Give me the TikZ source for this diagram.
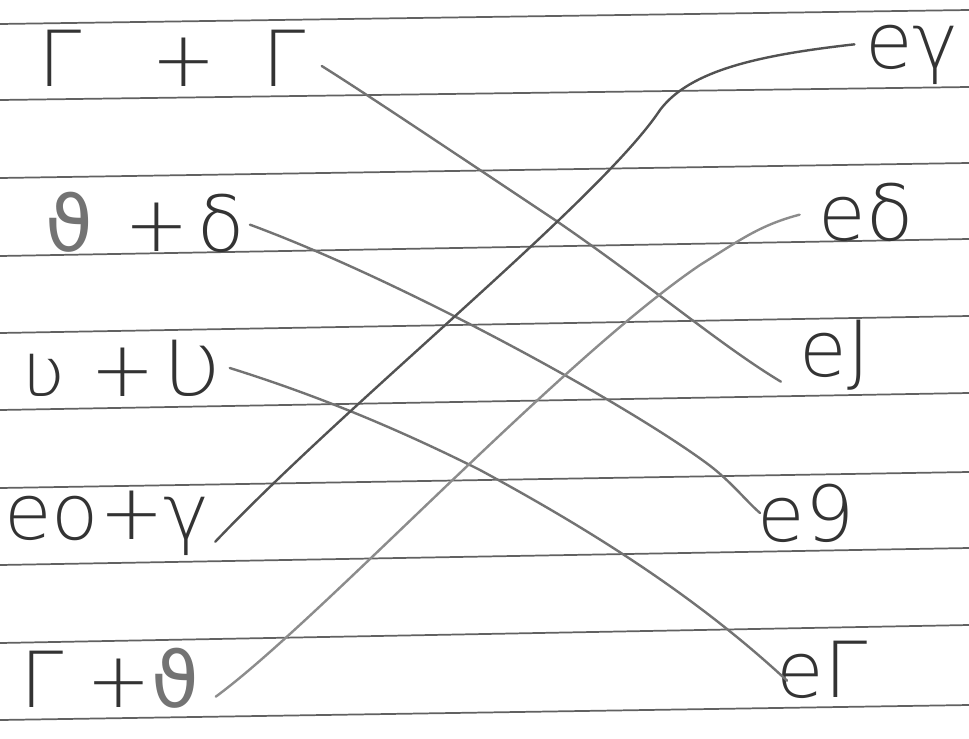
\documentclass[tikz,border=0pt]{standalone}
\usepackage{fontspec}
\setmainfont{DejaVu Sans ExtraLight}
\newfontfamily\thfont{DejaVu Sans}
\newcommand{\thglyph}{{\thfont\color{black!55}ϑ}}
\begin{document}
\begin{tikzpicture}[x=0.75pt,y=-0.75pt,
  rule/.style={draw=black!62,line width=1.3pt},
  lbl/.style={inner sep=0pt,font=\fontsize{58}{60}\selectfont,text=black!80},
  wire/.style={draw=black!55,line width=1.8pt,line cap=round}]
\useasboundingbox (0,0) rectangle (969,738);
\fill[white] (0,0) rectangle (969,738);
% ruled lines
\foreach \a/\b in {24/10,100/87,178/163,256/239,333/316,410/393,488/472,565/548,643/625,720/705}
  \draw[rule] (0,\a) -- (969,\b);
% left labels
\node[lbl] (l1) at (172,58) {Γ\hspace{0.9em}+\hspace{0.6em}Γ};
\node[lbl] (l2) at (145,222) {\thglyph\hspace{0.4em}+\hspace{0.1em}δ};
\node[lbl] (l3) at (120,368) {ʋ\hspace{0.3em}+\hspace{0.1em}Ʋ};
\node[lbl] (l4) at (107,523) {eo+γ};
\node[lbl] (l5) at (110,678) {Γ\hspace{0.3em}+\thglyph};
% right labels
\node[lbl] (r1) at (912,55) {eγ};
\node[lbl] (r2) at (866,212) {eδ};
\node[lbl] (r3) at (835,355) {eJ};
\node[lbl] (r4) at (806,513) {e9};
\node[lbl] (r5) at (822,670) {eΓ};
% connectors
\draw[wire] ([xshift=12pt,yshift=-6pt]l1.east) .. controls (360,90) and (420,130) .. (555,220)
  .. controls (650,285) and (720,345) .. ([xshift=-14pt,yshift=-20pt]r3.west);
\draw[wire] ([xshift=4pt,yshift=-2pt]l2.east) .. controls (400,280) and (620,400) .. (705,462)
  .. controls (730,480) and (745,500) .. ([xshift=2pt]r4.west);
\draw[wire] ([xshift=8pt]l3.east) .. controls (300,390) and (380,420) .. (480,470)
  .. controls (600,535) and (700,600) .. ([xshift=8pt,yshift=-8pt]r5.west);
\draw[wire,draw=black!68] ([xshift=4pt,yshift=-14pt]l4.east) .. controls (350,400) and (600,200) .. (660,110)
  .. controls (690,70) and (760,55) .. ([xshift=-8pt,yshift=8pt]r1.west);
\draw[wire,draw=black!45] ([xshift=12pt,yshift=-14pt]l5.east) .. controls (320,620) and (560,360) .. (700,265)
  .. controls (740,240) and (760,225) .. ([xshift=-14pt,yshift=-2pt]r2.west);
\end{tikzpicture}
\end{document}
